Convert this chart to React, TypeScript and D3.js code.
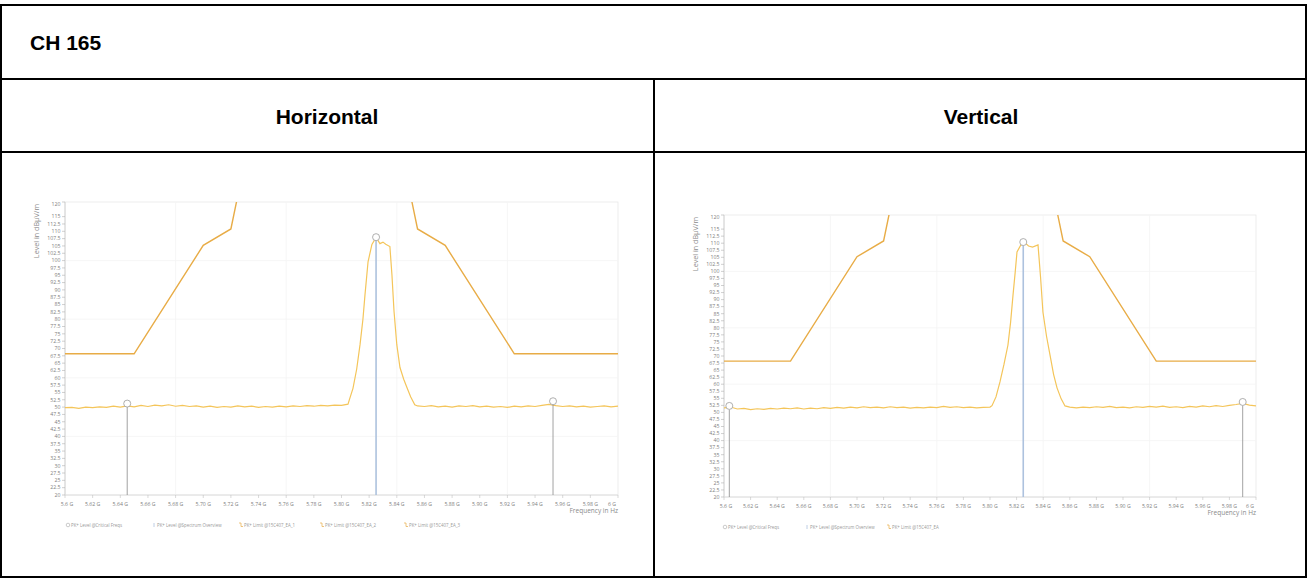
import React from "react";
import * as d3 from "d3";

// ---------- data ----------
const FREQ_TICKS = [5.6, 5.62, 5.64, 5.66, 5.68, 5.7, 5.72, 5.74, 5.76, 5.78, 5.8, 5.82, 5.84, 5.86, 5.88, 5.9, 5.92, 5.94, 5.96, 5.98, 6.0];
const FREQ_LABELS = ["5.6 G", "5.62 G", "5.64 G", "5.66 G", "5.68 G", "5.70 G", "5.72 G", "5.74 G", "5.76 G", "5.78 G", "5.80 G", "5.82 G", "5.84 G", "5.86 G", "5.88 G", "5.90 G", "5.92 G", "5.94 G", "5.96 G", "5.98 G", "6 G"];
const LEVEL_TICKS = [120, 115, 112.5, 110, 107.5, 105, 102.5, 100, 97.5, 95, 92.5, 90, 87.5, 85, 82.5, 80, 77.5, 75, 72.5, 70, 67.5, 65, 62.5, 60, 57.5, 55, 52.5, 50, 47.5, 45, 42.5, 40, 37.5, 35, 32.5, 30, 27.5, 25, 22.5, 20];

// limit mask (dBuV/m)
const MASK_FREQ = [5.6, 5.65, 5.7, 5.72, 5.725, 5.85, 5.855, 5.875, 5.925, 6.0];
const MASK_LEVEL = [68.2, 68.2, 105.2, 110.8, 122.2, 122.2, 110.8, 105.2, 68.2, 68.2];

// Horizontal trace
const H_FREQ = [
  5.6, 5.605, 5.61, 5.615, 5.62, 5.625, 5.63, 5.635, 5.64, 5.645, 5.65, 5.655, 5.66, 5.665, 5.67, 5.675, 5.68, 5.685, 5.69, 5.695,
  5.7, 5.705, 5.71, 5.715, 5.72, 5.725, 5.73, 5.735, 5.74, 5.745, 5.75, 5.755, 5.76, 5.765, 5.77, 5.775, 5.78, 5.785, 5.79, 5.795, 5.8,
  5.8047, 5.806, 5.8083, 5.811, 5.8134, 5.8155, 5.817, 5.8192, 5.822, 5.825, 5.8278, 5.83, 5.832, 5.835, 5.8365, 5.838, 5.84, 5.8423, 5.845, 5.8474, 5.85, 5.853,
  5.855, 5.86, 5.865, 5.87, 5.875, 5.88, 5.885, 5.89, 5.895, 5.9, 5.905, 5.91, 5.915, 5.92, 5.925, 5.93, 5.935, 5.94, 5.945, 5.95, 5.955, 5.96, 5.965, 5.97, 5.975, 5.98, 5.985, 5.99, 5.995, 6.0,
];
const H_LEVEL = [
  49.8, 49.9, 49.6, 50.0, 49.8, 50.1, 49.9, 50.3, 50.0, 50.4, 50.1, 50.6, 50.2, 50.7, 50.4, 50.8, 50.3, 50.6, 50.2, 50.4,
  50.0, 50.3, 49.9, 50.2, 50.0, 50.4, 50.1, 50.3, 49.9, 50.2, 50.0, 50.3, 50.1, 50.4, 50.2, 50.5, 50.3, 50.6, 50.4, 50.7, 50.6,
  51.0, 53.0, 56.4, 63.0, 71.3, 80.0, 88.4, 99.6, 105.5, 107.9, 105.8, 106.3, 105.6, 104.8, 95.0, 82.6, 71.3, 63.5, 59.5, 56.6, 53.5, 50.8,
  50.4, 50.2, 50.5, 50.1, 50.3, 50.0, 50.4, 50.2, 50.5, 50.1, 50.3, 50.0, 50.2, 49.9, 50.3, 50.1, 50.4, 50.2, 50.6, 50.9, 50.5, 50.2, 50.4, 50.1, 50.3, 50.0, 50.2, 50.4, 50.1, 50.3,
];
const H_MARKER_FREQ = [5.645, 5.825, 5.953];
const H_MARKER_LEVEL = [51.2, 108.0, 52.0];

// Vertical trace
const V_FREQ = [
  5.6, 5.605, 5.61, 5.615, 5.62, 5.625, 5.63, 5.635, 5.64, 5.645, 5.65, 5.655, 5.66, 5.665, 5.67, 5.675, 5.68, 5.685, 5.69, 5.695,
  5.7, 5.705, 5.71, 5.715, 5.72, 5.725, 5.73, 5.735, 5.74, 5.745, 5.75, 5.755, 5.76, 5.765, 5.77, 5.775, 5.78, 5.785, 5.79, 5.795, 5.8,
  5.8015, 5.8045, 5.8075, 5.8105, 5.8135, 5.8155, 5.8173, 5.819, 5.8203, 5.823, 5.8256, 5.829, 5.832, 5.8361, 5.838, 5.8398, 5.8425, 5.8451, 5.8478, 5.8504, 5.8535, 5.8564,
  5.86, 5.865, 5.87, 5.875, 5.88, 5.885, 5.89, 5.895, 5.9, 5.905, 5.91, 5.915, 5.92, 5.925, 5.93, 5.935, 5.94, 5.945, 5.95, 5.955, 5.96, 5.965, 5.97, 5.975, 5.98, 5.985, 5.99, 5.995, 6.0,
];
const V_LEVEL = [
  51.6, 51.9, 51.2, 51.4, 51.0, 51.3, 51.1, 51.4, 51.2, 51.5, 51.3, 51.6, 51.2, 51.5, 51.3, 51.7, 51.4, 51.8, 51.5, 51.9,
  51.6, 52.0, 51.7, 51.9, 51.6, 52.0, 51.7, 51.9, 51.5, 51.8, 51.6, 51.9, 51.7, 52.1, 51.8, 52.0, 51.7, 51.9, 51.6, 51.8, 51.9,
  52.4, 55.5, 60.8, 67.0, 73.9, 82.0, 91.6, 100.0, 106.9, 109.2, 110.4, 109.0, 108.6, 109.4, 98.0, 85.6, 77.0, 70.4, 63.5, 58.7, 54.8, 52.3,
  51.9, 51.6, 51.9, 51.7, 52.0, 51.8, 52.1, 51.7, 51.9, 51.6, 52.0, 51.8, 52.1, 51.9, 52.2, 51.8, 52.0, 51.7, 52.1, 51.9, 52.3, 52.0, 52.4, 52.1, 52.5, 52.8, 53.2, 52.6, 52.3,
];
const V_MARKER_FREQ = [5.604, 5.825, 5.99];
const V_MARKER_LEVEL = [52.3, 110.4, 53.7];

const H_LEGEND = ["PK+ Level @Critical Freqs", "PK+ Level @Spectrum Overview", "PK+ Limit @15C407_EA_1", "PK+ Limit @15C407_EA_2", "PK+ Limit @15C407_EA_3"];
const V_LEGEND = ["PK+ Level @Critical Freqs", "PK+ Level @Spectrum Overview", "PK+ Limit @15C407_EA"];

// ---------- styles ----------
const TRACE_COLOR = "#f4c55a";
const MASK_COLOR = "#e8ac46";
const CHART_FONT = "'Open Sans', 'DejaVu Sans', sans-serif";
const HEAD_FONT = "'Liberation Sans', Arial, sans-serif";

type ChartProps = {
  id: string;
  px0: number; px1: number; py0: number; py1: number;
  freq: number[]; level: number[];
  mFreq: number[]; mLevel: number[];
  legend: string[]; legendX: number[];
  yLabelX: number; yLabelY: number;
};

function Chart(p: ChartProps) {
  const x = d3.scaleLinear().domain([5.6, 6.0]).range([p.px0, p.px1]);
  const y = d3.scaleLinear().domain([20, 120]).range([p.py1, p.py0]);
  const line = d3.line<number>().x((_, i) => x(p.freq[i])).y((d) => y(d));
  const maskLine = d3.line<number>().x((_, i) => x(MASK_FREQ[i])).y((d) => y(d));
  const gridX = [5.68, 5.76, 5.84, 5.92];
  const gridY = [40, 60, 80, 100];
  return (
    <g fontFamily={CHART_FONT}>
      <defs>
        <clipPath id={p.id}>
          <rect x={p.px0} y={p.py0} width={p.px1 - p.px0} height={p.py1 - p.py0} />
        </clipPath>
      </defs>
      <rect x={p.px0} y={p.py0} width={p.px1 - p.px0} height={p.py1 - p.py0} fill="#fff" stroke="#e8e8e8" strokeWidth={0.8} />
      {gridX.map((g) => (
        <line key={"gx" + g} x1={x(g)} x2={x(g)} y1={p.py0} y2={p.py1} stroke="#f4f4f4" strokeWidth={0.8} />
      ))}
      {gridY.map((g) => (
        <line key={"gy" + g} x1={p.px0} x2={p.px1} y1={y(g)} y2={y(g)} stroke="#f4f4f4" strokeWidth={0.8} />
      ))}
      {/* axes */}
      <line x1={p.px0} x2={p.px0} y1={p.py0} y2={p.py1} stroke="#cccccc" strokeWidth={0.8} />
      <line x1={p.px0} x2={p.px1} y1={p.py1} y2={p.py1} stroke="#dadada" strokeWidth={0.8} />
      {LEVEL_TICKS.map((t) => (
        <g key={"yt" + t}>
          <line x1={p.px0 - 3} x2={p.px0} y1={y(t)} y2={y(t)} stroke="#b0b0b0" strokeWidth={0.6} />
          <text x={p.px0 - 4.5} y={t === 120 ? y(t) + 2 : y(t)} dy="0.35em" textAnchor="end" fontSize={5.2} fill="#808080">
            {String(t)}
          </text>
        </g>
      ))}
      {FREQ_TICKS.map((t, i) => (
        <g key={"xt" + t}>
          <line x1={x(t)} x2={x(t)} y1={p.py1} y2={p.py1 + 3} stroke="#c0c0c0" strokeWidth={0.6} />
          <text
            x={i === 0 ? x(t) + 2 : i === FREQ_TICKS.length - 1 ? x(t) - 2 : x(t)}
            y={p.py1 + 9}
            dy="0.35em"
            textAnchor={i === FREQ_TICKS.length - 1 ? "end" : "middle"}
            fontSize={5.2}
            fill="#808080"
          >
            {FREQ_LABELS[i]}
          </text>
        </g>
      ))}
      <text x={p.px1} y={p.py1 + 16} dy="0.35em" textAnchor="end" fontSize={6.5} fill="#8a8a8a">
        Frequency in Hz
      </text>
      <text transform={`translate(${p.yLabelX},${p.yLabelY}) rotate(-90)`} textAnchor="middle" dy="0.35em" fontSize={7.2} fill="#8a8a8a">
        Level in dBμV/m
      </text>
      {/* data */}
      <g clipPath={`url(#${p.id})`}>
        <path d={maskLine(MASK_LEVEL) || ""} fill="none" stroke={MASK_COLOR} strokeWidth={1.4} />
        <path d={line(p.level) || ""} fill="none" stroke={TRACE_COLOR} strokeWidth={1.2} />
      </g>
      {p.mFreq.map((f, i) => (
        <g key={"m" + i}>
          <line
            x1={x(f)} x2={x(f)} y1={y(p.mLevel[i]) + 3.5} y2={p.py1}
            stroke={i === 1 ? "#adc2de" : "#8a8a8a"}
            strokeWidth={i === 1 ? 1.6 : 0.8}
          />
          <circle cx={x(f)} cy={y(p.mLevel[i])} r={3.5} fill="#fff" stroke="#9a9a9a" strokeWidth={0.8} />
        </g>
      ))}
      {/* legend */}
      {p.legend.map((l, i) => {
        const lx = p.legendX[i];
        const ly = p.py1 + 30;
        return (
          <g key={"lg" + i}>
            {i === 0 && <circle cx={lx + 2} cy={ly} r={1.8} fill="none" stroke="#999" strokeWidth={0.5} />}
            {i === 1 && <line x1={lx + 2} x2={lx + 2} y1={ly - 2} y2={ly + 2} stroke="#adc2de" strokeWidth={0.8} />}
            {i >= 2 && <path d={`M${lx},${ly - 2}L${lx + 2},${ly - 2}L${lx + 2},${ly + 1.5}L${lx + 4},${ly + 1.5}`} fill="none" stroke={MASK_COLOR} strokeWidth={0.7} />}
            <text x={lx + 5} y={ly} dy="0.35em" fontSize={4.4} fill="#999">
              {l}
            </text>
          </g>
        );
      })}
    </g>
  );
}

export default function App() {
  return (
    <svg width={1309} height={579} style={{ position: "absolute", left: 0, top: 0, background: "#fff" }}>
      <rect x={0} y={0} width={1309} height={579} fill="#fff" />
      {/* table */}
      <g stroke="#000" strokeWidth={2} fill="none">
        <rect x={1} y={5} width={1305} height={572} />
        <line x1={1} x2={1306} y1={79} y2={79} />
        <line x1={1} x2={1306} y1={152} y2={152} />
        <line x1={654} x2={654} y1={79} y2={577} />
      </g>
      <g fontFamily={HEAD_FONT} fontWeight="bold" fontSize={21} fill="#000">
        <text x={30} y={50}>CH 165</text>
        <text x={327} y={124} textAnchor="middle">Horizontal</text>
        <text x={981} y={124} textAnchor="middle">Vertical</text>
      </g>
      <Chart
        id="clipH" px0={65} px1={618} py0={202} py1={495}
        freq={H_FREQ} level={H_LEVEL} mFreq={H_MARKER_FREQ} mLevel={H_MARKER_LEVEL}
        legend={H_LEGEND} legendX={[66, 152, 239, 320, 404]}
        yLabelX={36} yLabelY={231}
      />
      <Chart
        id="clipV" px0={724} px1={1256} py0={215} py1={497}
        freq={V_FREQ} level={V_LEVEL} mFreq={V_MARKER_FREQ} mLevel={V_MARKER_LEVEL}
        legend={V_LEGEND} legendX={[723, 805, 887]}
        yLabelX={695} yLabelY={244}
      />
    </svg>
  );
}
